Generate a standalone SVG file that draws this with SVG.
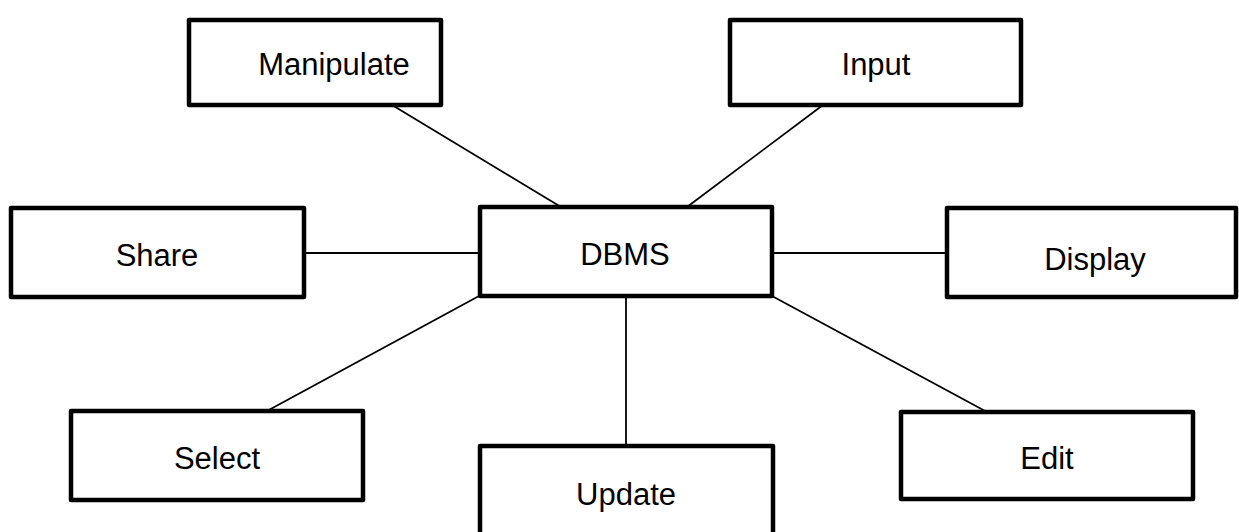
<svg xmlns="http://www.w3.org/2000/svg" width="1239" height="532" viewBox="0 0 1239 532">
  <style>
    .box { fill: #ffffff; stroke: #000000; stroke-width: 4.5; stroke-linejoin: round; }
    .label { font-family: "Liberation Sans", Arial, sans-serif; font-size: 31px; fill: #000000; text-anchor: middle; }
    .link { stroke: #000000; stroke-width: 1.8; fill: none; }
  </style>
  <rect width="1239" height="532" fill="#ffffff"/>

  <!-- connectors from the central DBMS box -->
  <g id="connectors">
    <line class="link" x1="392" y1="105" x2="561" y2="207"/>
    <line class="link" x1="823" y1="105" x2="687" y2="207"/>
    <line class="link" x1="304" y1="253" x2="479" y2="253"/>
    <line class="link" x1="772" y1="253" x2="947" y2="253"/>
    <line class="link" x1="479" y1="296" x2="267" y2="411"/>
    <line class="link" x1="626" y1="296" x2="626" y2="446"/>
    <line class="link" x1="772" y1="296" x2="987" y2="412"/>
  </g>

  <g id="node-dbms">
    <rect class="box" x="480" y="207" width="292" height="89"/>
    <text class="label" x="625" y="265">DBMS</text>
  </g>

  <g id="node-manipulate">
    <rect class="box" x="189" y="20" width="252" height="85"/>
    <text class="label" x="334" y="75">Manipulate</text>
  </g>

  <g id="node-input">
    <rect class="box" x="730" y="20" width="291" height="85"/>
    <text class="label" x="876" y="75">Input</text>
  </g>

  <g id="node-share">
    <rect class="box" x="11" y="208" width="293" height="89"/>
    <text class="label" x="157" y="266">Share</text>
  </g>

  <g id="node-display">
    <rect class="box" x="947" y="208" width="289" height="89"/>
    <text class="label" x="1095" y="270">Display</text>
  </g>

  <g id="node-select">
    <rect class="box" x="71" y="411" width="292" height="89"/>
    <text class="label" x="217" y="469">Select</text>
  </g>

  <g id="node-update">
    <rect class="box" x="480" y="446" width="293" height="100"/>
    <text class="label" x="626" y="505">Update</text>
  </g>

  <g id="node-edit">
    <rect class="box" x="901" y="412" width="292" height="87"/>
    <text class="label" x="1047" y="469">Edit</text>
  </g>
</svg>
